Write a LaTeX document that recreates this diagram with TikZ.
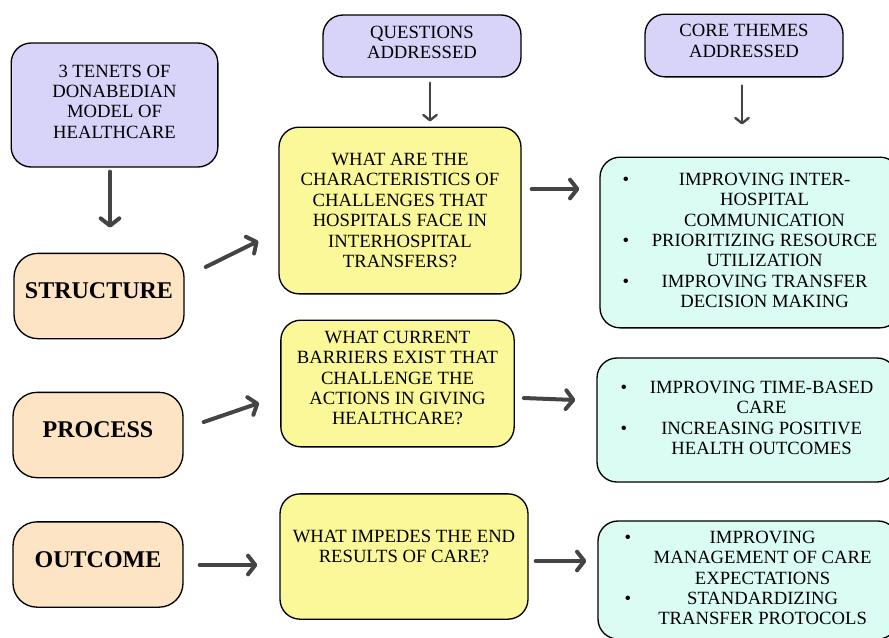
\documentclass[tikz,border=0pt]{standalone}
\usepackage{fontspec}
\setmainfont{Liberation Serif}[BoldFont={Liberation Serif Bold}]
\usetikzlibrary{arrows.meta, positioning}

\definecolor{lavender}{RGB}{216,211,248}
\definecolor{peach}{RGB}{252,228,196}
\definecolor{lemon}{RGB}{250,248,152}
\definecolor{mint}{RGB}{218,252,243}
\definecolor{arrowgray}{RGB}{68,68,68}

\begin{document}
\begin{tikzpicture}[
    x=0.75pt, y=-0.75pt,
    font=\rmfamily\fontsize{14}{15.3}\selectfont,
    every node/.style={align=center},
    title/.style ={rectangle, rounded corners=15pt, draw, line width=1pt,
                   fill=lavender},
    tenet/.style ={rectangle, rounded corners=18pt, draw, line width=1pt,
                   fill=peach, minimum width=127.5pt, minimum height=64pt,
                   font=\rmfamily\fontsize{18}{20}\selectfont\bfseries},
    quest/.style ={rectangle, rounded corners=15pt, draw, line width=1pt,
                   fill=lemon},
    theme/.style ={rectangle, rounded corners=15pt, draw, line width=1pt,
                   fill=mint, minimum width=225pt},
    arr/.style   ={-{Straight Barb[length=5.5pt, width=14pt, round]},
                   line width=3pt, draw=arrowgray, line cap=round},
    thinarr/.style={-{Straight Barb[length=4pt, width=10pt, round]},
                   line width=1.8pt, draw=arrowgray, line cap=round}
]
\useasboundingbox (0,0) rectangle (889,637);
\clip (0,0) rectangle (889,637);

% Column 1
\node[title, minimum width=155pt, minimum height=93pt] (model) at (114.5,105)
    {3 TENETS OF\\DONABEDIAN\\MODEL OF\\HEALTHCARE\\[-10pt]\mbox{}};
\node[tenet] (struct)  at (99,296)   {STRUCTURE\\[-12pt]\mbox{}};
\node[tenet] (process) at (98,435)   {PROCESS\\[-12pt]\mbox{}};
\node[tenet] (outcome) at (98,564.5) {OUTCOME\\[-12pt]\mbox{}};

% Column 2
\node[title, minimum width=148.5pt, minimum height=46.5pt] (quest) at (422,46)
    {QUESTIONS\\ADDRESSED\\[-10pt]\mbox{}};
\node[quest, minimum width=181.5pt, minimum height=125pt] (qstruct) at (400,210.5)
    {WHAT ARE THE\\CHARACTERISTICS OF\\CHALLENGES THAT\\HOSPITALS FACE IN\\INTERHOSPITAL\\TRANSFERS?};
\node[quest, minimum width=175pt, minimum height=95pt] (qprocess) at (397.5,383.5)
    {WHAT CURRENT\\BARRIERS EXIST THAT\\CHALLENGE THE\\ACTIONS IN GIVING\\HEALTHCARE?\\[-7pt]\mbox{}};
\node[quest, minimum width=186pt, minimum height=94pt] (qoutcome) at (404,556.5)
    {WHAT IMPEDES THE END\\RESULTS OF CARE?\\\mbox{}};

% Column 3
\node[title, minimum width=148.5pt, minimum height=47pt] (core) at (744,45.5)
    {CORE THEMES\\ADDRESSED\\[-8pt]\mbox{}};
\node[theme, minimum height=128pt] (tstruct) at (750,242.5)
    {\begin{tabular}{@{}c@{\hspace{17pt}}c@{}}
     \textbullet & IMPROVING INTER-\\
                 & HOSPITAL\\
                 & COMMUNICATION\\
     \textbullet & PRIORITIZING RESOURCE\\
                 & UTILIZATION\\
     \textbullet & IMPROVING TRANSFER\\
                 & DECISION MAKING
     \end{tabular}};
\node[theme, minimum height=93pt] (tprocess) at (747,420)
    {\begin{tabular}{@{}c@{\hspace{17pt}}c@{}}
     \textbullet & IMPROVING TIME-BASED\\
                 & CARE\\
     \textbullet & INCREASING POSITIVE\\
                 & HEALTH OUTCOMES
     \end{tabular}};
\node[theme, minimum height=88.5pt] (toutcome) at (748,580)
    {\begin{tabular}{@{}c@{\hspace{17pt}}c@{}}
     \textbullet & IMPROVING\\
                 & MANAGEMENT OF CARE\\
                 & EXPECTATIONS\\
     \textbullet & STANDARDIZING\\
                 & TRANSFER PROTOCOLS
     \end{tabular}};

% Arrows down
\draw[arr] ([shift={(-4.5,4)}]model.south) -- ([shift={(11,-25)}]struct.north);
\draw[thinarr] ([shift={(8,5)}]quest.south) -- ([shift={(30,-5)}]qstruct.north);
\draw[thinarr] ([shift={(-2,8)}]core.south) -- ([shift={(-8,-32)}]tstruct.north);
% tenets to questions
\draw[arr] ([shift={(21,-29)}]struct.east)  -- ([shift={(-20,30.5)}]qstruct.west);
\draw[arr] ([shift={(20,-13)}]process.east) -- ([shift={(-21,19.5)}]qprocess.west);
\draw[arr] ([shift={(16,0.5)}]outcome.east) -- ([shift={(-22,8.5)}]qoutcome.west);
% questions to themes
\draw[arr] ([shift={(10,-21.5)}]qstruct.east) -- ([shift={(-20,-53.5)}]tstruct.west);
\draw[arr] ([shift={(9,14.5)}]qprocess.east)  -- ([shift={(-21,-20)}]tprocess.west);
\draw[arr] ([shift={(7,4.5)}]qoutcome.east)   -- ([shift={(-11,-19)}]toutcome.west);
\end{tikzpicture}
\end{document}
